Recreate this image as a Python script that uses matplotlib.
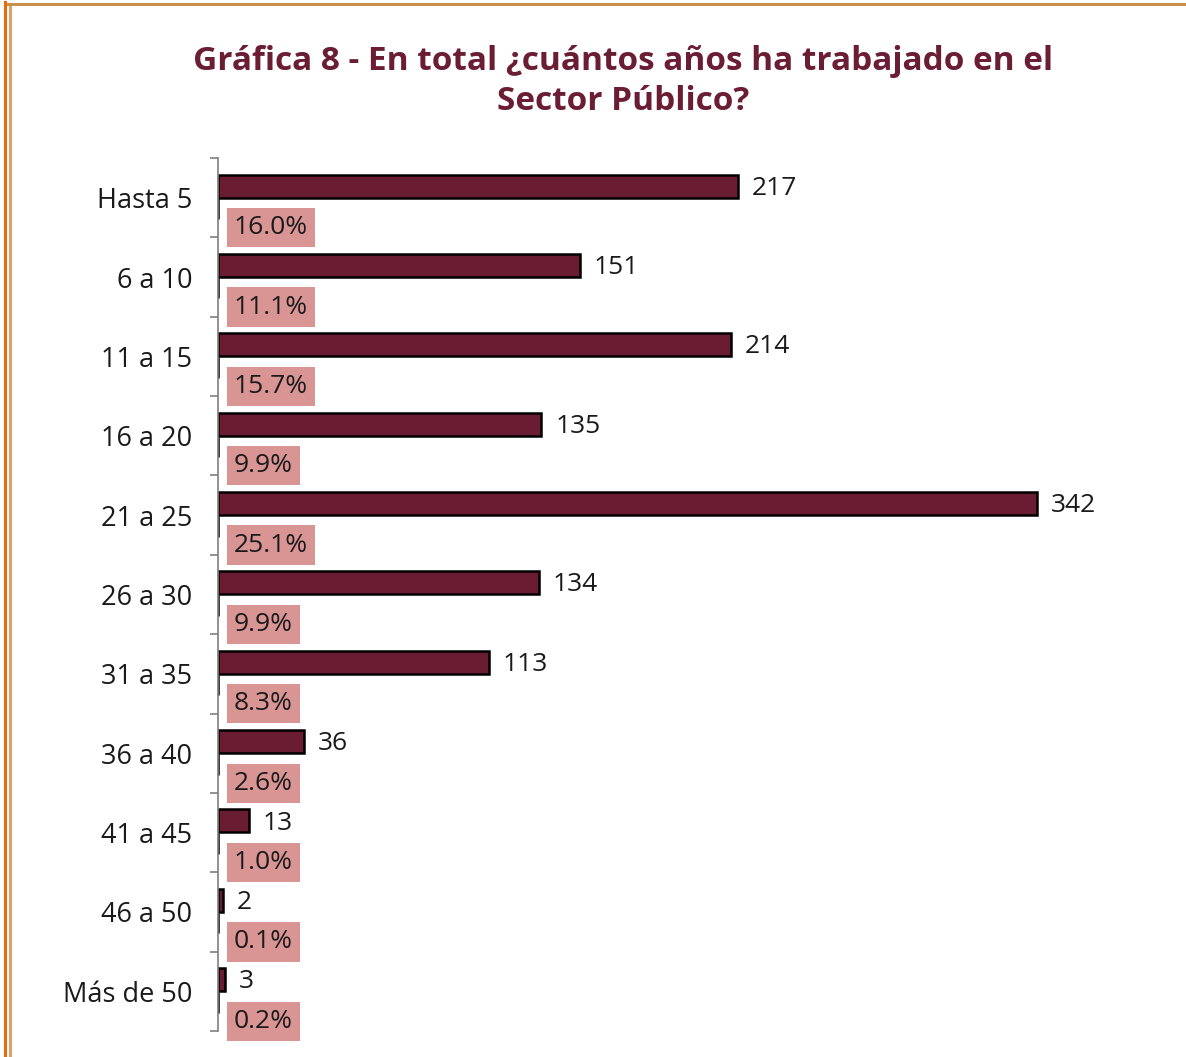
import matplotlib.pyplot as plt
from matplotlib.lines import Line2D
import numpy as np

categorias = ["Hasta 5", "6 a 10", "11 a 15", "16 a 20", "21 a 25", "26 a 30",
              "31 a 35", "36 a 40", "41 a 45", "46 a 50", "Más de 50"]
personas = [217, 151, 214, 135, 342, 134, 113, 36, 13, 2, 3]
porcentaje = [16.0, 11.1, 15.7, 9.9, 25.1, 9.9, 8.3, 2.6, 1.0, 0.1, 0.2]

vino = "#6A1C32"
rosa = "#D99594"
plt.rcParams['font.family'] = ['Open Sans', 'DejaVu Sans']

W, H = 1186, 1057
fig = plt.figure(figsize=(W / 100, H / 100), dpi=100)
ax = fig.add_axes([218 / W, (H - 1031) / H, (1160 - 218) / W, (1031 - 158) / H])

y = np.arange(len(categorias))
ax.barh(y - 0.147, personas, height=0.29, color=vino, edgecolor="black", linewidth=1.8)
# serie de porcentaje: barras sin ancho, solo queda el borde
ax.barh(y + 0.14, [0] * len(porcentaje), height=0.26, color=vino, edgecolor="black", linewidth=1.8)

for i, (n, p) in enumerate(zip(personas, porcentaje)):
    ax.annotate(str(n), xy=(n, i - 0.147), xytext=(10, -1.5), textcoords="offset points",
                va="center", ha="left", fontsize=19, color="#1a1a1a")
    ax.annotate(f"{p:.1f}%", xy=(0, i + 0.36), xytext=(11.5, -1), textcoords="offset points",
                va="center", ha="left", fontsize=19, color="#1a1a1a",
                bbox=dict(boxstyle="square,pad=0.27", facecolor=rosa, edgecolor="none"))

ax.set_xlim(0, (1160 - 218) / 2.395)
ax.set_ylim(len(categorias) - 0.5, -0.5)
ax.set_xticks([])
ax.set_yticks(np.arange(len(categorias) + 1) - 0.5)
ax.set_yticklabels([])
ax.set_yticks(y, minor=True)
ax.set_yticklabels(categorias, minor=True, fontsize=19.5, color="#1a1a1a")
ax.tick_params(axis="y", which="major", length=6, color="#7f7f7f", width=1.2)
ax.tick_params(axis="y", which="minor", length=0, pad=18.5)
for s in ["top", "right", "bottom"]:
    ax.spines[s].set_visible(False)
ax.spines["left"].set_color("#7f7f7f")
ax.spines["left"].set_linewidth(1.2)

fig.text(623 / W, 1 - 61 / H, "Gráfica 8 - En total ¿cuántos años ha trabajado en el",
         ha="center", va="center", fontsize=24, fontweight="bold", color="#6B1D34")
fig.text(623 / W, 1 - 101 / H, "Sector Público?",
         ha="center", va="center", fontsize=24, fontweight="bold", color="#6B1D34")

# marco
fig.add_artist(Line2D([5 / W, 5 / W], [0, 1 - 2 / H], transform=fig.transFigure,
                      color="#E46C0A", linewidth=2.2))
fig.add_artist(Line2D([9.5 / W, 9.5 / W], [0, 1 - 4 / H], transform=fig.transFigure,
                      color="#D6A56E", linewidth=2.2))
fig.add_artist(Line2D([8 / W, 1], [1 - 4 / H, 1 - 4 / H], transform=fig.transFigure,
                      color="#C89048", linewidth=2.2))

fig.savefig("out.png", dpi=100)
